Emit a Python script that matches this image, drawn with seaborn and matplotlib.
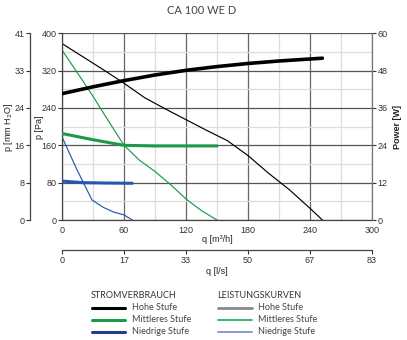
import numpy as np
import pandas as pd
import matplotlib
matplotlib.use("Agg")
import matplotlib.pyplot as plt
import seaborn as sns
from matplotlib.lines import Line2D

sns.set_theme(style="white")
plt.rcParams['font.family'] = ['Liberation Sans', 'DejaVu Sans']

# ---- data ----
# performance curves (pressure in Pa vs flow in m3/h)
q_high = [0, 20, 40, 60, 80, 100, 120, 140, 160, 180, 200, 220, 240, 252]
p_high = [378, 350, 322, 293, 262, 238, 215, 192, 170, 138, 100, 65, 25, 0]
q_mid = [0, 15, 30, 45, 60, 75, 90, 105, 120, 135, 150]
p_mid = [364, 315, 265, 212, 160, 128, 104, 76, 45, 20, 0]
q_low = [0, 14, 29, 40, 50, 60, 68]
p_low = [178, 110, 43, 27, 17, 11, 0]
# power consumption (W vs flow in m3/h)
qw_high = [0, 30, 60, 90, 120, 150, 180, 210, 252]
w_high = [40.6, 42.8, 44.8, 46.6, 48.1, 49.3, 50.3, 51.1, 52.0]
qw_mid = [0, 30, 60, 90, 120, 150]
w_mid = [27.8, 25.8, 24.0, 23.8, 23.8, 23.8]
qw_low = [0, 20, 40, 68]
w_low = [12.5, 12.0, 11.9, 11.8]

x_ticks = [0, 60, 120, 180, 240, 300]
ls_labels = ["0", "17", "33", "50", "67", "83"]
pa_ticks = [0, 80, 160, 240, 320, 400]
mm_labels = ["0", "8", "16", "24", "33", "41"]
w_ticks = [0, 12, 24, 36, 48, 60]

title = "CA 100 WE D"
legend_left_title = "STROMVERBRAUCH"
legend_right_title = "LEISTUNGSKURVEN"
stufen = ["Hohe Stufe", "Mittleres Stufe", "Niedrige Stufe"]

c_black = "#000000"
c_green = "#1a9a4a"
c_blue = "#2358b0"

fig = plt.figure(figsize=(4.07, 3.40), dpi=100)
W, H = 407, 340
x0, x1, y0, y1 = 62, 372, 220, 33.3
ax = fig.add_axes([x0 / W, 1 - y0 / H, (x1 - x0) / W, (y0 - y1) / H])
ax.set_facecolor("white")

def fx(px):
    return (px - x0) / (x1 - x0)

def fy(py):
    return (y0 - py) / (y0 - y1)

# grid
for v in range(0, 301, 30):
    ax.axvline(v, color="#666666" if v % 60 == 0 else "#dddddd", lw=0.9, zorder=0)
for v in range(0, 401, 40):
    ax.axhline(v, color="#555555" if v % 80 == 0 else "#dddddd", lw=0.9, zorder=0)

df_h = pd.DataFrame({"q": q_high, "p": p_high})
df_m = pd.DataFrame({"q": q_mid, "p": p_mid})
df_l = pd.DataFrame({"q": q_low, "p": p_low})
sns.lineplot(data=df_h, x="q", y="p", ax=ax, color=c_black, lw=0.85, sort=False)
sns.lineplot(data=df_m, x="q", y="p", ax=ax, color=c_green, lw=0.85, sort=False)
sns.lineplot(data=df_l, x="q", y="p", ax=ax, color=c_blue, lw=0.85, sort=False)

TFS = 6.5
ax.set_xlim(0, 300)
ax.set_ylim(0, 400)
ax.set_xticks(x_ticks)
ax.set_yticks(pa_ticks)
ax.tick_params(axis="both", labelsize=TFS, colors="#333333", length=3, width=0.8,
               direction="out", pad=1)
for s in ["top", "right"]:
    ax.spines[s].set_visible(False)
for s in ["left", "bottom"]:
    ax.spines[s].set_color("#444444")
    ax.spines[s].set_linewidth(0.9)
ax.set_xlabel("")
ax.set_ylabel("")

# power axis
ax2 = ax.twinx()
dfw_h = pd.DataFrame({"q": qw_high, "w": w_high})
dfw_m = pd.DataFrame({"q": qw_mid, "w": w_mid})
dfw_l = pd.DataFrame({"q": qw_low, "w": w_low})
sns.lineplot(data=dfw_h, x="q", y="w", ax=ax2, color=c_black, lw=2.6)
sns.lineplot(data=dfw_m, x="q", y="w", ax=ax2, color=c_green, lw=2.2)
sns.lineplot(data=dfw_l, x="q", y="w", ax=ax2, color=c_blue, lw=2.2)
ax2.set_ylim(0, 60)
ax2.set_xlim(0, 300)
ax2.set_yticks(w_ticks)
ax2.tick_params(axis="y", labelsize=TFS, colors="#333333", length=3, width=0.8, pad=1)
for s in ["top", "left", "bottom"]:
    ax2.spines[s].set_visible(False)
ax2.spines["right"].set_color("#777777")
ax2.spines["right"].set_linewidth(0.9)
ax2.set_ylabel("")
ax2.set_xlabel("")

# outer pressure axis in mmH2O
sec = ax.secondary_yaxis(fx(30))
sec.set_yticks(pa_ticks, mm_labels)
sec.tick_params(labelsize=TFS, colors="#333333", length=3, width=0.8, pad=1)
sec.spines["left"].set_color("#444444")
sec.spines["left"].set_linewidth(0.9)

# bottom l/s axis
secx = ax.secondary_xaxis(fy(250))
secx.set_xticks(x_ticks, ls_labels)
secx.tick_params(labelsize=TFS, colors="#333333", length=3, width=0.8, pad=1)
secx.spines["bottom"].set_color("#444444")
secx.spines["bottom"].set_linewidth(0.9)

lab = dict(fontsize=6.5, color="#222222", ha="center", va="center")
ymid = 1 - 127 / H
fig.text(9 / W, ymid, "p [mm H$_2$O]", rotation=90, **lab)
fig.text(39 / W, ymid, "p [Pa]", rotation=90, **lab)
fig.text(398 / W, ymid, "Power [W]", rotation=90, fontweight="bold", **lab)
fig.text(217 / W, 1 - 240 / H, "q [m³/h]", **lab)
fig.text(217 / W, 1 - 271 / H, "q [l/s]", **lab)

fig.text(202 / W, 1 - 10 / H, title, ha="center", va="center", fontsize=8,
         color="#444444", family="Lato")

# legend
leg_fs = 6.5
fig.text(91 / W, 1 - 296 / H, legend_left_title, fontsize=leg_fs, color="#333333",
         va="center", family="Lato")
fig.text(217 / W, 1 - 296 / H, legend_right_title, fontsize=leg_fs, color="#333333",
         va="center", family="Lato")
left_cols = ["#000000", "#1a9a4a", "#2a3a8f"]
right_cols = ["#888888", "#1aaa55", "#8080d8"]
rows_y = [308, 320, 332]
for i, yy in enumerate(rows_y):
    fyy = 1 - yy / H
    fig.add_artist(Line2D([92 / W, 125 / W], [fyy, fyy], color=left_cols[i], lw=2.2))
    fig.add_artist(Line2D([218 / W, 252 / W], [fyy, fyy], color=right_cols[i],
                          lw=2.0 if i == 0 else 1.2))
    fig.text(132 / W, fyy, stufen[i], fontsize=leg_fs, color="#444444", va="center",
             family="Lato")
    fig.text(258 / W, fyy, stufen[i], fontsize=leg_fs, color="#444444", va="center",
             family="Lato")

fig.savefig("out.png", dpi=100)
